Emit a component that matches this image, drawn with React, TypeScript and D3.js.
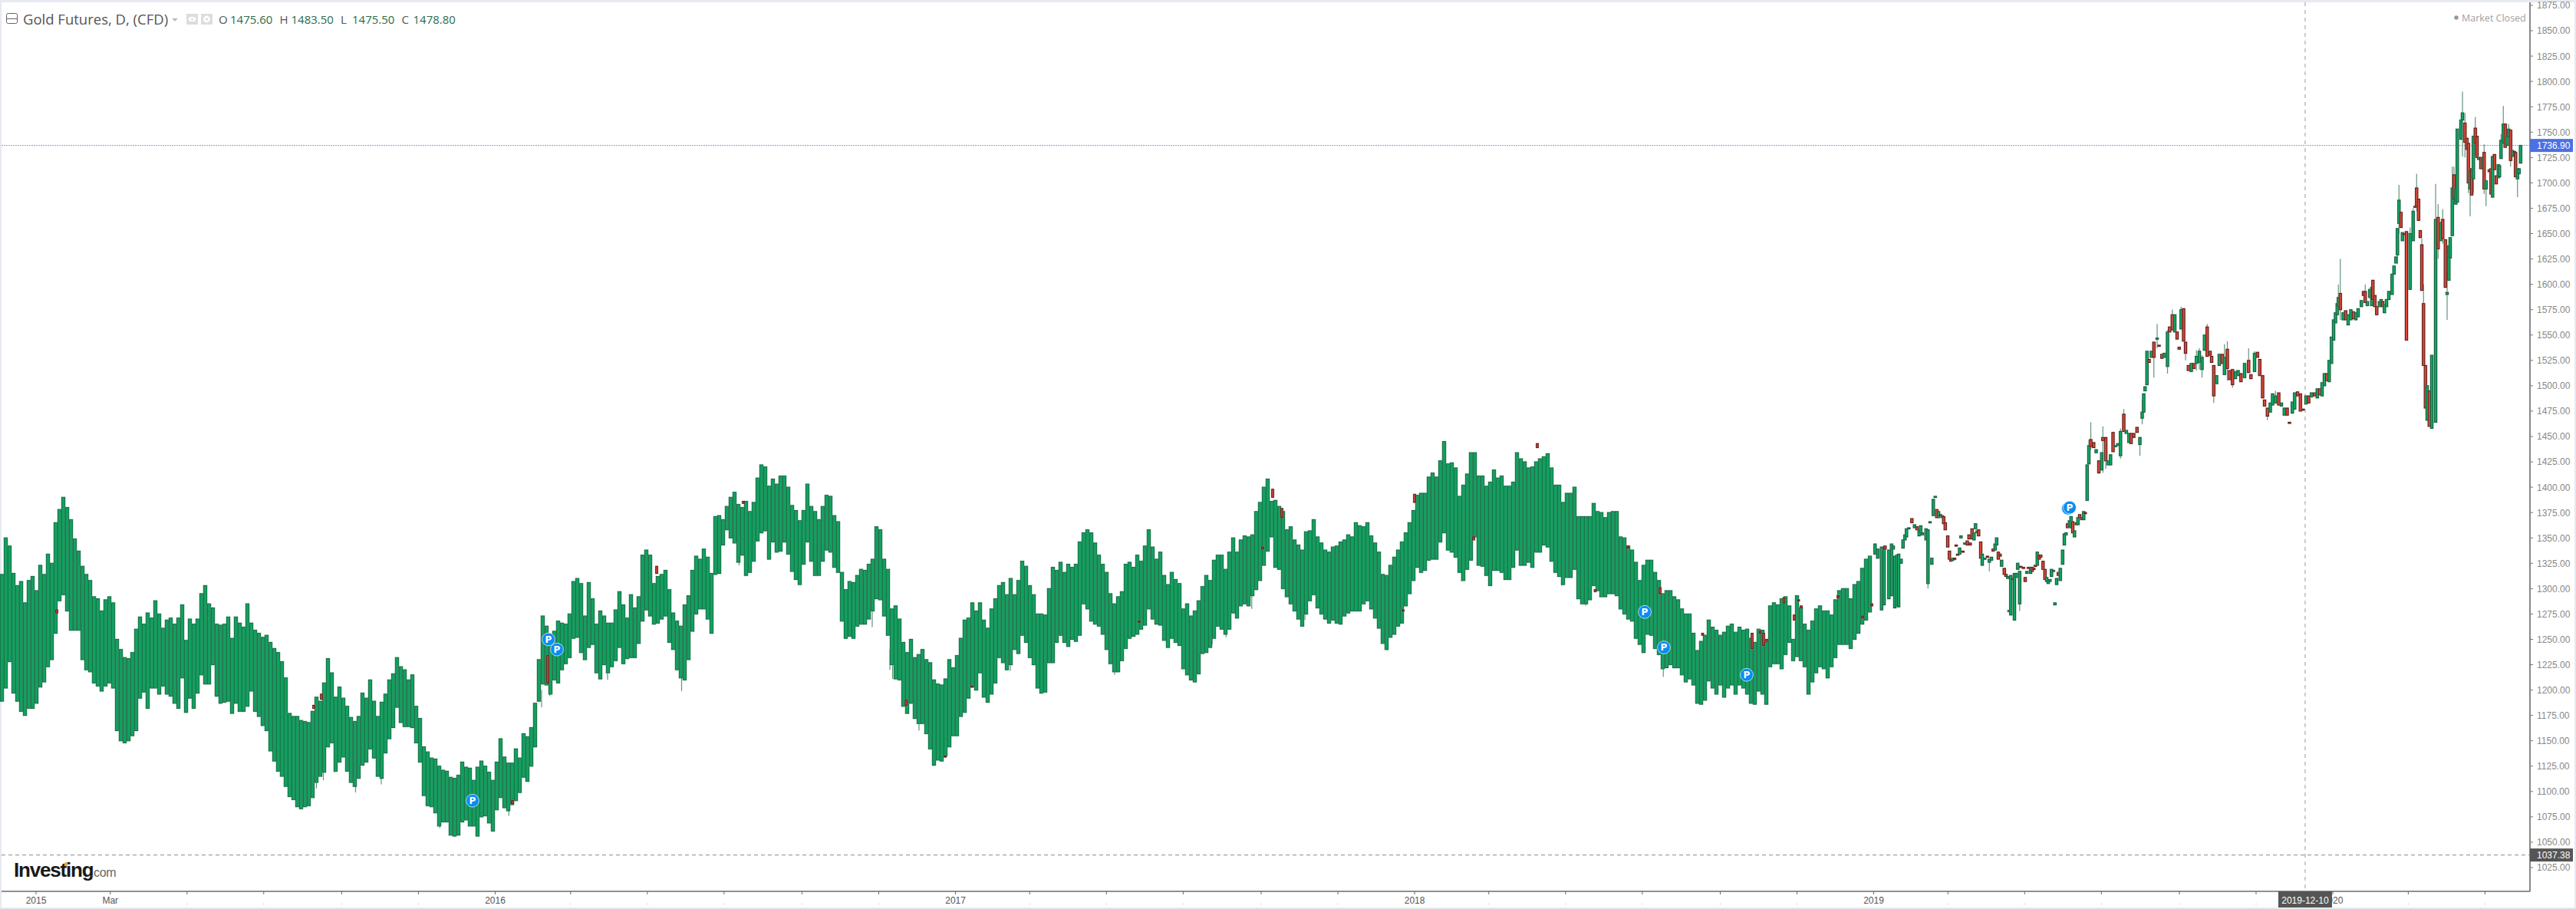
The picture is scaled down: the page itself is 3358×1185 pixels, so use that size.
import * as d3 from 'd3'

// Session numbering: one unit is 2.5px of chart width, dense band samples sit on every second session.
// Dense part of the chart (2015 to early 2019): body top and bottom, in USD.
const bandHigh = [
  1314,1350,1342,1315,1303,1307,1286,1308,1312,1298,1323,1314,1334,1325,1365,1378,1390,1380,1368,1349,
  1337,1322,1314,1308,1292,1290,1278,1289,1292,1286,1250,1240,1232,1231,1237,1260,1272,1265,1276,1271,
  1288,1275,1261,1269,1271,1265,1271,1284,1249,1270,1265,1270,1295,1303,1285,1281,1265,1264,1265,1272,
  1251,1272,1266,1262,1285,1266,1259,1256,1252,1254,1247,1241,1237,1228,1212,1177,1174,1174,1170,1169,
  1168,1179,1193,1189,1207,1231,1217,1193,1203,1192,1184,1173,1169,1174,1197,1192,1210,1189,1174,1188,
  1196,1210,1216,1232,1223,1220,1210,1215,1184,1172,1144,1139,1133,1132,1125,1121,1120,1114,1113,1116,
  1129,1124,1123,1111,1124,1130,1125,1119,1111,1129,1152,1134,1128,1128,1142,1133,1157,1154,1163,1187,
  1230,1273,1263,1250,1258,1268,1266,1265,1275,1307,1310,1305,1273,1306,1290,1265,1278,1273,1266,1266,
  1279,1297,1284,1271,1294,1281,1292,1333,1338,1333,1305,1312,1314,1318,1299,1276,1268,1263,1284,1293,
  1318,1332,1329,1339,1331,1315,1371,1372,1368,1381,1390,1395,1383,1380,1386,1376,1385,1409,1422,1420,
  1401,1408,1403,1411,1411,1400,1382,1377,1367,1377,1403,1381,1376,1368,1381,1392,1391,1372,1366,1316,
  1299,1307,1306,1313,1319,1318,1324,1329,1361,1358,1329,1319,1280,1283,1270,1247,1237,1250,1232,1235,
  1240,1230,1227,1210,1206,1205,1211,1230,1222,1234,1251,1269,1271,1286,1278,1286,1269,1261,1280,1290,
  1303,1306,1294,1310,1294,1308,1327,1322,1303,1294,1275,1275,1274,1300,1321,1318,1326,1316,1324,1321,
  1324,1346,1355,1358,1355,1345,1333,1324,1316,1295,1285,1292,1297,1324,1326,1321,1333,1327,1342,1358,
  1341,1329,1336,1313,1304,1316,1309,1305,1280,1285,1273,1278,1288,1302,1313,1308,1328,1333,1333,1319,
  1336,1350,1336,1348,1352,1351,1353,1376,1385,1400,1408,1386,1387,1381,1376,1358,1361,1348,1343,1338,
  1356,1357,1368,1351,1345,1338,1336,1341,1342,1346,1348,1353,1351,1365,1362,1361,1365,1352,1345,1336,
  1314,1313,1323,1331,1338,1346,1355,1365,1377,1392,1394,1394,1410,1414,1410,1426,1445,1423,1424,1419,
  1391,1402,1413,1434,1434,1411,1411,1401,1405,1417,1409,1411,1401,1401,1405,1434,1428,1425,1419,1420,
  1425,1428,1430,1433,1419,1402,1402,1385,1394,1394,1400,1371,1371,1371,1371,1384,1376,1375,1370,1375,
  1376,1376,1351,1350,1342,1338,1326,1308,1323,1328,1328,1316,1308,1295,1298,1298,1292,1289,1280,1275,
  1275,1256,1239,1248,1254,1269,1262,1259,1254,1257,1263,1265,1257,1262,1259,1260,1251,1247,1260,1259,
  1247,1283,1286,1284,1290,1292,1283,1250,1293,1281,1265,1259,1268,1280,1283,1278,1278,1274,1289,1298,
  1300,1300,1290,1304,1307,1320,1329,1332,
]
const bandLow = [
  1189,1202,1228,1197,1189,1179,1175,1182,1182,1187,1203,1208,1223,1230,1256,1288,1294,1278,1259,1259,
  1259,1230,1220,1218,1207,1204,1199,1204,1207,1202,1160,1150,1148,1150,1155,1160,1192,1198,1182,1202,
  1202,1196,1204,1196,1194,1187,1182,1212,1178,1192,1182,1197,1215,1206,1206,1225,1194,1187,1188,1189,
  1177,1187,1179,1179,1184,1199,1179,1174,1165,1160,1140,1130,1120,1115,1105,1095,1092,1085,1083,1085,
  1086,1094,1109,1115,1119,1144,1148,1120,1129,1134,1120,1109,1105,1113,1126,1129,1142,1133,1115,1113,
  1138,1152,1163,1183,1168,1164,1164,1163,1148,1129,1096,1086,1085,1079,1066,1070,1070,1057,1056,1057,
  1070,1072,1066,1066,1056,1075,1076,1069,1061,1082,1094,1084,1081,1087,1091,1099,1114,1110,1125,1144,
  1189,1206,1205,1196,1210,1207,1220,1226,1232,1251,1252,1237,1230,1242,1245,1217,1211,1225,1217,1223,
  1229,1242,1226,1231,1232,1232,1246,1268,1279,1273,1265,1266,1270,1273,1247,1240,1220,1212,1210,1230,
  1258,1275,1280,1280,1270,1256,1314,1315,1343,1358,1350,1345,1326,1333,1313,1316,1327,1347,1355,1357,
  1329,1346,1336,1337,1346,1334,1317,1309,1304,1324,1346,1327,1313,1313,1327,1338,1336,1321,1316,1268,
  1251,1253,1251,1263,1265,1265,1270,1278,1290,1289,1273,1254,1225,1211,1210,1184,1177,1187,1172,1167,
  1167,1157,1142,1126,1131,1130,1135,1144,1155,1155,1174,1178,1192,1203,1200,1217,1193,1188,1196,1207,
  1232,1227,1220,1225,1240,1236,1254,1247,1232,1225,1202,1197,1198,1227,1227,1247,1254,1247,1243,1250,
  1248,1254,1285,1280,1268,1265,1263,1255,1240,1226,1218,1218,1229,1241,1251,1253,1255,1260,1264,1280,
  1270,1265,1264,1249,1242,1251,1247,1244,1221,1215,1210,1208,1216,1236,1237,1242,1251,1263,1260,1255,
  1260,1276,1271,1283,1285,1283,1293,1299,1308,1323,1337,1351,1321,1319,1300,1292,1285,1278,1270,1263,
  1275,1288,1294,1281,1275,1270,1266,1269,1266,1265,1273,1276,1278,1278,1278,1285,1288,1280,1271,1261,
  1246,1240,1252,1255,1263,1266,1283,1295,1308,1321,1316,1318,1328,1329,1329,1346,1355,1338,1336,1331,
  1316,1308,1319,1328,1351,1323,1322,1313,1303,1318,1318,1316,1309,1309,1321,1338,1323,1323,1326,1321,
  1336,1336,1343,1341,1327,1316,1312,1304,1311,1311,1319,1290,1285,1285,1289,1303,1298,1292,1292,1295,
  1295,1293,1280,1275,1270,1268,1251,1245,1237,1255,1254,1241,1235,1221,1222,1225,1222,1222,1215,1208,
  1211,1205,1187,1186,1190,1209,1202,1196,1205,1193,1202,1205,1196,1205,1202,1196,1187,1186,1199,1196,
  1186,1223,1226,1226,1221,1235,1247,1229,1233,1229,1223,1196,1208,1217,1223,1221,1212,1223,1232,1245,
  1245,1245,1241,1250,1256,1265,1269,1277,
]

// Loose down days sitting on the dense band
const redSession = [28.8,162.8,166.8,266.4,284.8,341.6,386.8,471.7,492,506,593.2,657.6,662.8,667.6,730.8,736.8,767.6,800.8,831,848,864.8,887,912.8,917,918.8,920.4,929.4,934.8,937,938.4,957.6,970.4,975.2]
const redOpen = [1279,1185,1196,1091,1234,1322,1386,1190,1135,1204,1268,1341,1398,1379,1279,1393,1351,1443,1299,1342,1301,1256,1256,1258,1256,1250,1291,1274,1289,1283,1293,1273,1285]
const redClose = [1276,1182,1191,1088,1207,1315,1384,1185,1134,1203,1267,1339,1390,1370,1278,1385,1348,1439,1297,1340,1295,1254,1241,1256,1244,1248,1286,1269,1288,1281,1291,1271,1283]

// Individually readable candles, early 2019 onward
const lateSession = [
  976.9,978.3,980.3,981.6,982.1,984.1,985.5,986.4,987.2,988.3,989.2,990.5,991.5,992.5,993.3,994.5,996.1,997.5,998.8,999.9,
  1000.7,1001.6,1003.5,1004.5,1005.6,1006.5,1007.3,1008.3,1009.1,1010,1011,1011.9,1012.7,1013.5,1014.8,1015.7,1016.5,1017.5,1018.4,1019.2,
  1020,1021,1021.7,1022.7,1023.7,1025,1025.9,1026.5,1027.5,1028.5,1029.3,1030.1,1030.9,1032,1032.8,1034.1,1035.5,1036.5,1037.6,1038.5,
  1039.5,1040.3,1041.2,1042.1,1042.9,1044.3,1045.2,1046.1,1046.8,1047.7,1048.7,1049.6,1050.5,1051.3,1052.3,1052.9,1054.3,1055.2,1056.1,1056.9,
  1058,1058.8,1059.7,1060.5,1061.5,1062.5,1063.3,1064.5,1065.5,1066.4,1067.2,1068.1,1068.9,1069.9,1070.7,1071.6,1072.5,1073.5,1074.7,1075.6,
  1076.5,1077.3,1078.3,1079.1,1080,1080.9,1081.9,1082.7,1083.6,1084.7,1085.7,1086.5,1087.5,1088.4,1089.4,1090.9,1092.2,1093.6,1095.1,1095.7,
  1097.2,1098.4,1099.7,1101,1102.2,1103.5,1104.9,1106.6,1107.9,1109.3,1110.4,1111.8,1113.5,1115,1116.2,1117,1117.7,1118.7,1119.8,1121,
  1122.3,1124,1125,1126.5,1127.7,1129.4,1130.5,1131.9,1133.2,1134.4,1135.5,1136.5,1137.8,1138.8,1140.3,1141.8,1143.2,1144.5,1146,1147.4,
  1148.7,1150.1,1151.6,1152.4,1153.5,1155,1156.4,1157.9,1159.1,1160.6,1161.8,1163.3,1164.8,1166.2,1167.7,1169.6,1171.7,1172.9,1174.8,1176.3,
  1177.5,1179,1180,1181.5,1183,1184.2,1185.7,1187.4,1188.8,1190.3,1191.8,1193,1194.5,1195.7,1197.2,1198.7,1200.1,1201.6,1203,1204.5,
  1206,1207.5,1208.7,1210,1211.2,1212.5,1213.7,1214.9,1216,1217,1217.9,1218.5,1219.5,1221,1222.3,1223.6,1225,1226.3,1227.6,1228.8,
  1230.5,1231.6,1232.5,1233.6,1234.9,1235.9,1236.5,1237.5,1238.5,1239.9,1240.8,1241.6,1242.5,1243.6,1244.8,1246.5,1247.5,1248.5,1249.3,1250.1,
  1251.1,1251.9,1252.8,1254,1255.9,1257.5,1258.5,1259.3,1260.3,1261.2,1262,1262.9,1263.9,1264.8,1265.9,1267.2,1269.2,1270.5,1271.9,1272.9,
  1274.3,1275.2,1276.1,1276.8,1277.9,1278.8,1279.7,1280.5,1282.4,1283.2,1284.5,1285.5,1286.3,1287.2,1288,1288.9,1289.9,1290.8,1291.7,1292.8,
  1293.6,1294.5,1295.5,1297.2,1298.1,1298.9,1299.9,1300.8,1301.9,1302.5,1303.3,1304.5,1305.5,1306.5,1307.3,1308.3,1309.3,1310.3,1310.9,1311.9,
  1312.7,1313.5,
]
const lateOpen = [
  1334,1330,1279,1284,1342,1290,1293,1339,1281,1283,1282,1325,1340,1348,1351,1359,1369,1360,1361,1352,
  1355,1353,1348,1305,1365,1324,1372,1390,1378,1370,1373,1370,1371,1365,1352,1337,1329,1328,1330,1343,
  1334,1334,1350,1337,1344,1347,1353,1345,1359,1348,1359,1355,1358,1346,1323,1329,1332,1326,1328,1339,
  1338,1343,1336,1334,1322,1320,1314,1310,1278,1274,1310,1269,1311,1319,1285,1322,1321,1311,1315,1321,
  1315,1321,1320,1323,1323,1333,1333,1327,1319,1307,1305,1307,1312,1317,1284,1304,1316,1308,1324,1343,
  1353,1364,1361,1360,1366,1351,1365,1363,1373,1370,1368,1375,1387,1423,1447,1444,1434,1426,1417,1449,
  1449,1422,1422,1454,1440,1441,1431,1472,1453,1444,1453,1453,1459,1442,1468,1474,1495,1501,1526,1528,
  1543,1546,1540,1531,1528,1519,1558,1570,1553,1553,1538,1556,1576,1543,1520,1514,1522,1522,1523,1516,
  1535,1558,1534,1529,1520,1502,1520,1531,1511,1536,1515,1516,1507,1510,1512,1508,1525,1511,1514,1533,
  1526,1510,1486,1478,1474,1481,1483,1493,1480,1471,1478,1464,1473,1477,1494,1492,1477,1482,1490,1489,
  1493,1488,1497,1490,1500,1512,1504,1522,1545,1562,1570,1578,1591,1565,1574,1560,1565,1573,1565,1568,
  1578,1593,1593,1579,1587,1579,1604,1589,1578,1578,1580,1583,1572,1578,1585,1590,1610,1621,1629,1660,
  1671,1643,1650,1652,1595,1643,1677,1695,1684,1653,1639,1581,1520,1466,1495,1458,1464,1666,1643,1664,
  1644,1590,1604,1626,1648,1708,1679,1681,1743,1762,1759,1744,1739,1694,1714,1704,1754,1746,1723,1725,
  1714,1730,1694,1713,1714,1686,1728,1707,1705,1706,1724,1739,1758,1737,1745,1752,1726,1731,1730,1704,
  1709,1719.5,
]
const lateClose = [
  1344,1339,1341,1341,1339,1338,1344,1342,1332,1333,1334,1329,1348,1353,1359,1360,1365,1363,1358,1358,
  1362,1355,1359,1358,1366,1330,1388,1391,1370,1376,1372,1372,1364,1358,1341,1329,1327,1330,1329,1342,
  1333,1340,1352,1336,1345,1343,1349,1343,1349,1355,1364,1357,1352,1330,1334,1330,1331,1329,1331,1337,
  1344,1350,1329,1332,1328,1314,1312,1312,1278.5,1313,1309,1315,1315,1325,1317,1321,1320,1307,1317,1320,
  1321,1317,1319,1322,1336,1329,1331,1319,1309,1311,1308,1309,1319,1318,1286,1310,1313,1320,1338,1354,
  1355,1360,1367,1371,1355,1357,1363,1370,1370,1368,1376,1374,1422,1441,1440,1439,1437,1414,1434,1446,
  1426,1426,1432,1435,1441,1443,1455,1455,1456,1453,1443,1449,1454,1449,1474,1492,1499,1534,1523,1534,
  1528,1547,1539,1527,1532,1553,1553,1555,1570,1546,1536,1575,1544,1532,1515,1522,1517,1529,1534,1528,
  1550,1529,1530,1523,1490,1510,1531,1522,1528,1517,1506,1501,1514,1515,1504,1522,1513,1507,1532,1528,
  1510,1488,1480,1470,1483,1492,1490,1481,1483,1478,1471,1463,1484,1493,1490,1475,1476,1490,1483,1493,
  1490,1497,1491,1503,1512,1505,1525,1548,1565,1572,1581,1587,1575,1572,1565,1570,1575,1566,1572,1576,
  1584,1589,1582,1583,1595,1597,1585,1578,1570,1583,1585,1578,1580,1585,1593,1610,1618,1627,1655,1683,
  1656,1651,1649,1545,1650,1672,1676,1677,1663,1646,1594,1520,1478,1500,1460,1530,1664,1635,1661,1645,
  1597,1592,1638,1646,1695,1684,1694,1753,1762,1769,1740,1733,1700,1711,1688,1746,1739,1725,1725,1714,
  1725,1694,1702,1711,1689,1726,1713,1699,1718,1717,1742,1758,1735,1746,1753,1722,1732,1727,1706,1714,
  1714,1736.9,
]

// Visible shadows, as session / high / low (dense band has lower shadows only)
const wickSession = [164.2,167.8,173.5,184.6,198,228.5,264.5,281.6,285.9,316,337.8,354.6,384.6,416.3,439.8,454,463.2,464.6,478.4,486,526,580.4,621.5,631.3,638.5,651.9,679.6,722.4,761.3,775.6,813.5,826,855.5,866.5,1004.5,1036.5,1052.3,1088.4,1089.4,1095.7,1097.2,1104.9,1106.6,1115,1116.2,1122.3,1124,1129.4,1131.9,1136.5,1138.8,1144.5,1146,1147.4,1150.1,1153.5,1159.1,1160.6,1163.3,1171.7,1174.8,1181.5,1185.7,1218.5,1219.5,1232.5,1249.3,1250.1,1255.9,1257.5,1259.3,1262,1262.9,1269.2,1270.5,1272.9,1275.2,1277.9,1278.8,1283.2,1284.5,1286.3,1287.2,1288.9,1289.9,1294.5,1295.5,1298.9,1303.3,1304.5,1307.3,1308.3,1311.9]
const wickHigh = [1130,1130,1140,1120,1125,1090,1100,1200,1215,1240,1290,1230,1340,1320,1270,1280,1240,1230,1180,1150,1240,1240,1225,1265,1270,1295,1290,1260,1320,1320,1320,1300,1260,1235,1358,1329,1317,1447,1464,1460,1449,1458,1477,1449,1486,1543,1561,1555,1575,1578,1543,1535,1537,1530,1561,1520,1541,1544,1516,1537,1534,1478,1495,1600,1625,1600,1655,1698,1656,1675,1709,1645,1600,1699,1679,1674,1613,1716,1716,1790,1769,1739,1711,1746,1765,1738,1702,1727,1748,1776,1758,1752,1714]
const wickLow = [1103,1111,1119,1099,1107,1064,1076,1183,1194,1210,1273,1199,1323,1304,1251,1262,1220,1211,1160,1125,1219,1215,1208,1245,1252,1280,1269,1239,1307,1303,1303,1283,1238,1213,1300,1317,1278,1423,1437,1414,1418,1428,1455,1431,1462,1508,1537,1512,1555,1556,1525,1515,1516,1508,1529,1483,1511,1505,1498,1513,1514,1466,1483,1578,1565,1582,1620,1650,1595,1643,1672,1594,1520,1464,1625,1640,1565,1648,1684,1726,1725,1690,1667,1690,1727,1689,1677,1685,1724,1739,1745,1716,1686]

// Pivot markers
const markerSession = [245.6,285.2,289.6,856.8,866.8,910,1077.6,1078.4]
const markerPrice = [1091,1250,1240,1277,1242,1215,1379,1380]

const priceTicks = d3.range(1025, 1876, 25)
const lastPrice = 1736.9
const lowPrice = 1037.38
const crosshairDate = new Date(2019, 11, 10)
const legendPairs = [['O', '1475.60'], ['H', '1483.50'], ['L', '1475.50'], ['C', '1478.80']]

const W = 3358
const H = 1185
const plotRight = 3298
const plotBottom = 1162
const FONT = "'Liberation Sans', Arial, sans-serif"
const UP_FILL = '#10a863'
const UP_STROKE = '#12593a'
const DOWN_FILL = '#d8483a'
const DOWN_STROKE = '#541812'

const xSession = d3.scaleLinear().domain([0, 1316]).range([2, 3292])
const yPrice = d3.scaleLinear().domain([1875, 1025]).range([7, 1131])
const xTime = d3.scaleTime().domain([new Date(2015, 0, 1), new Date(2020, 0, 1)]).range([47, 3041])
const monthTicks = d3.timeMonth.every(2)!.range(new Date(2015, 0, 1), new Date(2020, 5, 2))
const money = d3.format('.2f')

function tickLabel(d: Date) {
  if (d.getMonth() === 0) return String(d.getFullYear())
  if (d.getFullYear() === 2015 && d.getMonth() === 2) return 'Mar'
  return ''
}

function Candle({ s, open, close, width = 3.2 }: { s: number; open: number; close: number; width?: number }) {
  const up = close >= open
  const top = yPrice(Math.max(open, close))
  const h = Math.max(Math.abs(yPrice(open) - yPrice(close)), 1.5)
  const x = xSession(s)
  return (
    <g>
      <rect x={x - width / 2 - 1} y={top - 1} width={width + 2} height={h + 2} fill={up ? '#7fa898' : '#c99a94'} opacity={0.45} />
      <rect x={x - width / 2} y={top} width={width} height={h} fill={up ? UP_FILL : DOWN_FILL} stroke={up ? UP_STROKE : DOWN_STROKE} strokeWidth={1} />
    </g>
  )
}

export default function App() {
  const crossX = xTime(crosshairDate)
  return (
    <svg width={W} height={H} style={{ position: 'absolute', left: 0, top: 0, display: 'block', background: '#fff' }} fontFamily={FONT}>
      <style>{'body{margin:0;overflow:hidden}'}</style>

      {/* page frame */}
      <rect x={0} y={0} width={W} height={3} fill="#e6e9f0" />
      <rect x={0} y={0} width={2} height={H} fill="#e6e9f0" />
      <rect x={0} y={1183} width={W} height={2} fill="#e6e9f0" />
      <rect x={3356} y={0} width={2} height={H} fill="#e6e9f0" />

      {/* reference lines */}
      <line x1={2} x2={plotRight} y1={yPrice(lastPrice)} y2={yPrice(lastPrice)} stroke="#5b7be6" strokeWidth={1} strokeDasharray="2 1" opacity={0.75} />
      <line x1={2} x2={plotRight} y1={yPrice(lowPrice)} y2={yPrice(lowPrice)} stroke="#8a8a8a" strokeWidth={1} strokeDasharray="5 4" />
      <line x1={crossX} x2={crossX} y1={3} y2={plotBottom} stroke="#9a9a9a" strokeWidth={1} strokeDasharray="5 5" />

      {/* shadows */}
      {wickSession.map((s, i) => (
        <line key={i} x1={xSession(s)} x2={xSession(s)} y1={yPrice(wickHigh[i])} y2={yPrice(wickLow[i])} stroke="#3f7a60" strokeWidth={1.2} opacity={0.8} />
      ))}

      {/* dense band */}
      {bandHigh.map((hi, i) => {
        const x = xSession(i * 2 + 0.2)
        return (
          <g key={i}>
            <rect x={x - 3} y={yPrice(hi) - 1} width={6} height={yPrice(bandLow[i]) - yPrice(hi) + 2} fill="#8fb3a2" opacity={0.5} />
            <rect x={x - 2.1} y={yPrice(hi)} width={4.2} height={yPrice(bandLow[i]) - yPrice(hi)} fill="#12a05f" stroke="#127045" strokeWidth={1} />
          </g>
        )
      })}
      {redSession.map((s, i) => (
        <Candle key={i} s={s} open={redOpen[i]} close={redClose[i]} width={2.6} />
      ))}

      {/* single candles */}
      {lateSession.map((s, i) => (
        <Candle key={i} s={s} open={lateOpen[i]} close={lateClose[i]} />
      ))}

      {/* P markers */}
      {markerSession.map((s, i) => (
        <g key={i} transform={`translate(${xSession(s)},${yPrice(markerPrice[i])})`}>
          <circle r={8.4} fill="#0a8df2" stroke="#d9ecfb" strokeWidth={0.8} />
          <text textAnchor="middle" y={4.3} fontSize={12} fontWeight={700} fill="#fff" fontFamily="'DejaVu Sans', sans-serif">P</text>
        </g>
      ))}

      {/* logo */}
      <text x={18} y={1143} fontSize={26} fontWeight={700} fill="#1a1a1a" letterSpacing={-1.2} fontFamily={FONT}>Investing</text>
      <text x={118} y={1143} fontSize={16} fill="#666" letterSpacing={-0.4} fontFamily={FONT}>.com</text>
      <rect x={84} y={1124} width={4} height={5} rx={1.5} fill="#f5a623" />

      {/* time axis */}
      <line x1={2} x2={plotRight} y1={plotBottom} y2={plotBottom} stroke="#6b6b6b" strokeWidth={1.6} />
      {monthTicks.map((d, i) => {
        const label = tickLabel(d)
        return (
          <g key={i} transform={`translate(${xTime(d)},0)`}>
            <line y1={plotBottom} y2={plotBottom + 4} stroke="#6b6b6b" strokeWidth={1} />
            {label ? (
              <text y={1178} textAnchor="middle" fontSize={12} fill="#555">{label}</text>
            ) : (
              <rect x={-0.5} y={1178} width={1} height={1} fill="#aaa" />
            )}
          </g>
        )
      })}
      <rect x={crossX - 35} y={plotBottom} width={70} height={21} fill="#555" />
      <text x={crossX} y={1178} textAnchor="middle" fontSize={12} fill="#fff">{d3.timeFormat('%Y-%m-%d')(crosshairDate)}</text>

      {/* price axis */}
      <line x1={plotRight} x2={plotRight} y1={3} y2={plotBottom} stroke="#6b6b6b" strokeWidth={1.6} />
      {priceTicks.map((p) => (
        <g key={p} transform={`translate(${plotRight},${yPrice(p)})`}>
          <line x2={4} stroke="#777" strokeWidth={1} />
          <text x={9} y={4.4} fontSize={12} fill="#888">{money(p)}</text>
        </g>
      ))}
      <rect x={plotRight} y={yPrice(lastPrice) - 8.5} width={56} height={17} fill="#4b70e2" />
      <text x={plotRight + 9} y={yPrice(lastPrice) + 4.4} fontSize={12} fill="#fff">{money(lastPrice)}</text>
      <rect x={plotRight} y={yPrice(lowPrice) - 8.5} width={56} height={17} fill="#555" />
      <text x={plotRight + 9} y={yPrice(lowPrice) + 4.4} fontSize={12} fill="#fff">{money(lowPrice)}</text>

      {/* legend */}
      <rect x={8.5} y={17.5} width={14} height={13} rx={2} fill="#fff" stroke="#666" strokeWidth={1} />
      <line x1={9} x2={22} y1={24.5} y2={24.5} stroke="#666" strokeWidth={1} />
      <text x={30} y={32} fontSize={18.5} fill="#555" fontFamily="'Open Sans', sans-serif">Gold Futures, D, (CFD)</text>
      <path d="M224,24 L232,24 L228,28 Z" fill="#bbb" />
      <rect x={243} y={18} width={15} height={14} fill="#ddd" />
      <ellipse cx={250.5} cy={25} rx={5} ry={3.2} fill="#fff" />
      <circle cx={250.5} cy={25} r={1.6} fill="#ddd" />
      <rect x={262} y={18} width={15} height={14} fill="#ddd" />
      <circle cx={269.5} cy={25} r={4.4} fill="#fff" />
      <circle cx={269.5} cy={25} r={1.7} fill="#ddd" />
      {legendPairs.map(([k, v], i) => (
        <g key={k} transform={`translate(${285 + i * 79.5},31)`} fontFamily="'Open Sans', sans-serif" fontSize={15}>
          <text fill="#555">{k}</text>
          <text x={15} fill="#2d6b4b">{v}</text>
        </g>
      ))}
      <circle cx={3202} cy={23} r={2.8} fill="#999" />
      <text x={3209} y={28} fontSize={12.5} fill="#a0a0a0" fontFamily="'Open Sans', sans-serif">Market Closed</text>
    </svg>
  )
}
